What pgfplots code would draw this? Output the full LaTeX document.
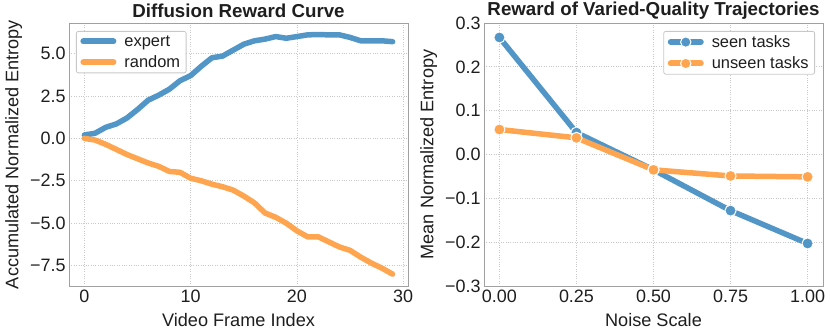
\documentclass[border=0pt]{standalone}
\usepackage{pgfplots}
\pgfplotsset{compat=1.18}
\usepackage{fontspec}
\setmainfont{Liberation Sans}
\definecolor{sblue}{RGB}{82,150,200}
\definecolor{sorange}{RGB}{255,165,80}
\definecolor{gridc}{RGB}{200,200,200}
\definecolor{framec}{RGB}{160,160,160}
\definecolor{txt}{RGB}{30,30,30}
\tikzset{ttl/.style={font=\fontsize{18.8}{20}\selectfont\bfseries, text=txt, anchor=center}}
\newcommand{\lgd}[1]{\hspace{6bp}#1}
\pgfplotsset{
  sbstyle/.style={
    scale only axis, width=339bp, height=263bp, clip=false,
    axis line style={framec, line width=0.9bp},
    grid=major, major grid style={gridc, dotted, line width=0.8bp},
    tick style={draw=none},
    ticklabel style={font=\fontsize{18}{20}\selectfont, text=txt},
    label style={font=\fontsize{18.2}{20}\selectfont, text=txt},
    xlabel style={at={(axis description cs:0.5,-0.13)}, anchor=center},
    ylabel style={at={(axis description cs:-0.163,0.5)}, anchor=center},
    legend style={font=\fontsize{16.5}{18}\selectfont, draw=gridc, rounded corners=2bp,
      line width=0.8bp, text=txt, row sep=4bp, inner xsep=4bp, inner ysep=2bp},
    legend cell align=left,
  },
}
\begin{document}
\begin{tikzpicture}
\begin{axis}[sbstyle,
  xlabel={Video Frame Index}, ylabel={Accumulated Normalized Entropy},
  xmin=-1.45, xmax=30.45, ymin=-8.7, ymax=6.8,
  xtick={0,10,20,30}, xticklabels={0,10,20,30},
  ytick={-7.5,-5,-2.5,0,2.5,5},
  yticklabels={−7.5,−5.0,−2.5,0.0,2.5,5.0},
  legend style={at={(7bp,255bp)}, anchor=north west},
  legend image code/.code={\draw[#1, line width=6bp, line cap=round] (0bp,0bp) -- (30bp,0bp);},
]
\addplot[sblue, line width=5.5bp, line join=round, line cap=round] coordinates {
(0,0.2) (1,0.3) (2,0.65) (3,0.85) (4,1.2) (5,1.7) (6,2.25) (7,2.55) (8,2.9) (9,3.4)
(10,3.7) (11,4.25) (12,4.75) (13,4.85) (14,5.2) (15,5.55) (16,5.75) (17,5.85) (18,6.0) (19,5.9)
(20,6.0) (21,6.1) (22,6.12) (23,6.1) (24,6.1) (25,5.95) (26,5.75) (27,5.75) (28,5.75) (29,5.7)};
\addlegendentry{\lgd{expert}}
\addplot[sorange, line width=5.5bp, line join=round, line cap=round] coordinates {
(0,0) (1,-0.1) (2,-0.35) (3,-0.65) (4,-0.95) (5,-1.2) (6,-1.45) (7,-1.65) (8,-1.95) (9,-2.0)
(10,-2.35) (11,-2.5) (12,-2.7) (13,-2.85) (14,-3.05) (15,-3.4) (16,-3.8) (17,-4.4) (18,-4.65) (19,-5.0)
(20,-5.45) (21,-5.8) (22,-5.8) (23,-6.1) (24,-6.4) (25,-6.6) (26,-7.0) (27,-7.35) (28,-7.65) (29,-8.0)};
\addlegendentry{\lgd{random}}
\node[ttl] at (rel axis cs:0.5,1.046) {Diffusion Reward Curve};
\end{axis}
\begin{axis}[sbstyle, xshift=415bp,
  xlabel={Noise Scale}, ylabel={Mean Normalized Entropy},
  xmin=-0.05, xmax=1.05, ymin=-0.3, ymax=0.3,
  xtick={0,0.25,0.5,0.75,1}, xticklabels={0.00,0.25,0.50,0.75,1.00},
  ytick={-0.3,-0.2,-0.1,0,0.1,0.2,0.3},
  yticklabels={−0.3,−0.2,−0.1,0.0,0.1,0.2,0.3},
  legend style={at={(331bp,255bp)}, anchor=north east},
  legend image code/.code={\draw[#1, mark=none, line width=6bp, line cap=round] (0bp,0bp) -- (30bp,0bp);
    \fill[#1, draw=white, line width=1bp] (15bp,0bp) circle (5.2bp);},
]
\addplot[sblue, line width=5.5bp, line join=round, line cap=round,
  mark=*, mark size=5.6bp, mark options={fill=sblue, draw=white, line width=1bp}] coordinates {
(0,0.267) (0.25,0.05) (0.5,-0.035) (0.75,-0.128) (1,-0.203)};
\addlegendentry{\lgd{seen tasks}}
\addplot[sorange, line width=5.5bp, line join=round, line cap=round,
  mark=*, mark size=5.6bp, mark options={fill=sorange, draw=white, line width=1bp}] coordinates {
(0,0.057) (0.25,0.038) (0.5,-0.035) (0.75,-0.049) (1,-0.051)};
\addlegendentry{\lgd{unseen tasks}}
\node[ttl] at (rel axis cs:0.5,1.046) {Reward of Varied-Quality Trajectories};
\end{axis}
\pgfresetboundingbox
\useasboundingbox (-69bp,-50bp) rectangle (761bp,286bp);
\end{tikzpicture}
\end{document}
